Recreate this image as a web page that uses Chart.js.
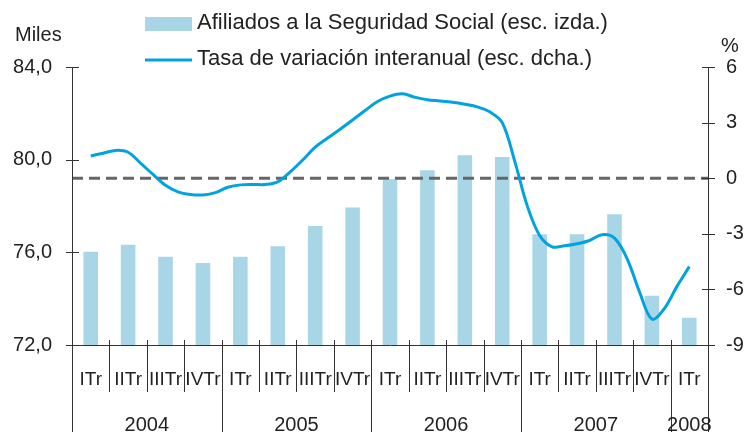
<!DOCTYPE html>
<html>
<head>
<meta charset="utf-8">
<script src="https://cdn.jsdelivr.net/npm/chart.js@4.4.1/dist/chart.umd.min.js"></script>
<style>
body { margin: 0; background: #fff; }
#wrap { width: 750px; height: 432px; }
</style>
</head>
<body>
<div id="wrap"><canvas id="myChart" width="750" height="432"></canvas></div>
<script>
const ctx = document.getElementById('myChart');

// trimestres (eje x)
const quarters = ['ITr','IITr','IIITr','IVTr', 'ITr','IITr','IIITr','IVTr',
                  'ITr','IITr','IIITr','IVTr', 'ITr','IITr','IIITr','IVTr', 'ITr'];
const years = ['2004', '2005', '2006', '2007', '2008'];
const yearSpans = [4, 4, 4, 4, 1];

// afiliados, miles (esc. izda.)
const afiliados = [76.03, 76.33, 75.81, 75.54, 75.81, 76.26, 77.14, 77.93,
                   79.16, 79.54, 80.19, 80.11, 76.78, 76.78, 77.64, 74.13, 73.18];

// tasa interanual mensual, % (esc. dcha.), feb 2004 - feb 2008
const tasa = [1.2, 1.35, 1.5, 1.4, 0.81, 0.2, -0.38, -0.74, -0.88, -0.9, -0.78, -0.49,
              -0.36, -0.34, -0.34, -0.2, 0.34, 0.98, 1.68, 2.17, 2.64, 3.14, 3.65, 4.14,
              4.43, 4.55, 4.37, 4.23, 4.17, 4.1, 3.99, 3.85, 3.58, 3.0, 0.92, -1.48,
              -3.09, -3.7, -3.65, -3.54, -3.36, -3.05, -3.23, -4.32, -6.12, -7.6, -7.03, -5.85, -4.77];

const leftTicks = [72, 76, 80, 84];
const rightTicks = [-9, -6, -3, 0, 3, 6];

const BAR = '#a8d6e7';
const LINE = '#00a3de';
const INK = '#222';
const FONT = "'Liberation Sans', Arial, Helvetica, sans-serif";

Chart.defaults.font.family = FONT;
Chart.defaults.color = INK;

// tres meses por trimestre -> posicion en unidades de trimestre
const tasaPts = tasa.map((v, i) => ({x: i / 3, y: v}));

const decor = {
  id: 'decor',
  afterDraw(chart) {
    const c = chart.ctx, a = chart.chartArea, H = chart.height;
    const x = chart.scales.x, yl = chart.scales.y, yr = chart.scales.y2;
    const px = v => Math.round(v) + 0.5;
    c.save();
    c.strokeStyle = '#333';
    c.lineWidth = 1;
    c.beginPath();
    c.moveTo(px(a.left), a.top); c.lineTo(px(a.left), H);
    c.moveTo(px(a.right), a.top); c.lineTo(px(a.right), H);
    c.moveTo(a.left - 6, px(a.bottom)); c.lineTo(a.right + 7, px(a.bottom));
    leftTicks.forEach(t => {
      const p = px(yl.getPixelForValue(t));
      c.moveTo(a.left - 6, p); c.lineTo(a.left + 7, p);
    });
    rightTicks.forEach(t => {
      const p = px(yr.getPixelForValue(t));
      c.moveTo(a.right - 6, p); c.lineTo(a.right + 7, p);
    });
    // separadores de trimestres y de años
    const bounds = [];
    let acc = 0;
    yearSpans.forEach(s => { acc += s; bounds.push(acc); });
    for (let k = 1; k < quarters.length; k++) {
      const xb = px((x.getPixelForValue(k - 1) + x.getPixelForValue(k)) / 2);
      c.moveTo(xb, a.bottom - 5);
      c.lineTo(xb, bounds.includes(k) ? H : a.bottom + 47);
    }
    c.stroke();

    // años
    c.fillStyle = INK;
    c.font = '20px ' + FONT;
    c.textAlign = 'center';
    c.textBaseline = 'alphabetic';
    let start = 0;
    years.forEach((y, i) => {
      const end = start + yearSpans[i] - 1;
      const cx = (x.getPixelForValue(start) + x.getPixelForValue(end)) / 2;
      c.fillText(y, cx, 431);
      start += yearSpans[i];
    });

    // unidades
    c.textAlign = 'left';
    c.fillText('Miles', 15, 41);
    c.textAlign = 'center';
    c.fillText('%', 730, 52);

    // leyenda
    c.textAlign = 'left';
    c.font = '22px ' + FONT;
    c.fillStyle = BAR;
    c.fillRect(145, 17, 47, 14);
    c.fillStyle = INK;
    c.fillText('Afiliados a la Seguridad Social (esc. izda.)', 197, 29);
    c.strokeStyle = LINE;
    c.lineWidth = 3;
    c.beginPath();
    c.moveTo(145, 60); c.lineTo(192, 60);
    c.stroke();
    c.fillText('Tasa de variación interanual (esc. dcha.)', 197, 65);
    c.restore();
  }
};

const config = {
  type: 'bar',
  data: {
    labels: quarters,
    datasets: [
      {
        type: 'line',
        label: 'Tasa de variación interanual (esc. dcha.)',
        data: tasaPts,
        xAxisID: 'xl',
        yAxisID: 'y2',
        borderColor: LINE,
        borderWidth: 3,
        pointRadius: 0,
        tension: 0.35,
        order: 0
      },
      {
        type: 'line',
        label: 'cero',
        data: [{x: -0.5, y: 0}, {x: 16.5, y: 0}],
        xAxisID: 'xl',
        yAxisID: 'y2',
        borderColor: '#666',
        borderWidth: 3,
        borderDash: [11, 6],
        pointRadius: 0,
        order: 1
      },
      {
        label: 'Afiliados a la Seguridad Social (esc. izda.)',
        data: afiliados,
        backgroundColor: BAR,
        grouped: false,
        barPercentage: 0.39,
        categoryPercentage: 1,
        xAxisID: 'x',
        yAxisID: 'y',
        order: 2
      }
    ]
  },
  options: {
    responsive: false,
    animation: false,
    layout: { padding: { top: 67, left: 0, right: 0, bottom: 0 } },
    plugins: { legend: { display: false }, tooltip: { enabled: false } },
    scales: {
      x: {
        type: 'category',
        offset: true,
        grid: { display: false },
        border: { display: false },
        ticks: { autoSkip: false, maxRotation: 0, padding: 15, font: { size: 19 }, color: INK },
        afterFit(s) { s.height = 87; }
      },
      xl: {
        type: 'linear',
        min: -0.5,
        max: 16.5,
        offset: false,
        display: false
      },
      y: {
        position: 'left',
        min: 72,
        max: 84,
        grid: { display: false },
        border: { display: false },
        ticks: {
          stepSize: 4,
          padding: 12,
          font: { size: 20 },
          color: INK,
          callback: v => v.toFixed(1).replace('.', ',')
        },
        afterFit(s) { s.width = 72; }
      },
      y2: {
        position: 'right',
        min: -9,
        max: 6,
        grid: { display: false },
        border: { display: false },
        ticks: { stepSize: 3, padding: 10, font: { size: 20 }, color: INK },
        afterFit(s) { s.width = 42; }
      }
    }
  },
  plugins: [decor]
};

const myChart = new Chart(ctx, config);
</script>
</body>
</html>
